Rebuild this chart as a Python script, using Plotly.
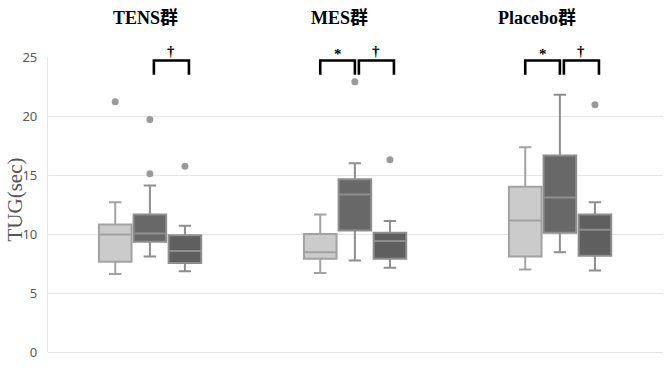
import plotly.graph_objects as go

groups = ["TENS群", "MES群", "Placebo群"]
conditions = ["A", "B", "C"]

# per condition: values for [TENS, MES, Placebo]
lowerfence = {"A": [6.6, 6.7, 7.0], "B": [8.1, 7.75, 8.45], "C": [6.85, 7.15, 6.9]}
q1 = {"A": [7.65, 7.9, 8.1], "B": [9.35, 10.3, 10.1], "C": [7.55, 7.9, 8.15]}
median = {"A": [9.95, 8.45, 11.15], "B": [10.05, 13.35, 13.1], "C": [8.55, 9.4, 10.35]}
q3 = {"A": [10.8, 10.0, 14.0], "B": [11.65, 14.65, 16.65], "C": [9.9, 10.1, 11.65]}
upperfence = {"A": [12.7, 11.65, 17.35], "B": [14.1, 16.0, 21.8], "C": [10.7, 11.1, 12.7]}
outliers = {
    "A": [[21.2], [], []],
    "B": [[19.7, 15.1], [22.9], []],
    "C": [[15.75], [16.3], [20.95]],
}
# significance brackets: (group index, box from, box to, symbol)
brackets = [(0, 1, 2, "†"), (1, 0, 1, "*"), (1, 1, 2, "†"), (2, 0, 1, "*"), (2, 1, 2, "†")]

yticks = [0, 5, 10, 15, 20, 25]
ytitle = "TUG(sec)"

fills = {"A": "#cbcbcb", "B": "#686868", "C": "#5f5f5f"}
lines = {"A": "#a2a2a2", "B": "#8e8e8e", "C": "#8e8e8e"}
offsets = {"A": -0.172, "B": -0.003, "C": 0.168}
BOXW = 0.159

fig = go.Figure()
for c in conditions:
    xs = [g + offsets[c] for g in range(len(groups))]
    fig.add_trace(go.Box(
        x=xs, q1=q1[c], median=median[c], q3=q3[c],
        lowerfence=lowerfence[c], upperfence=upperfence[c],
        width=BOXW, fillcolor=fills[c],
        line=dict(color=lines[c], width=2), whiskerwidth=0.38,
        boxpoints=False, showlegend=False, hoverinfo="skip",
    ))
    ox, oy = [], []
    for g in range(len(groups)):
        for v in outliers[c][g]:
            ox.append(g + offsets[c])
            oy.append(v)
    fig.add_trace(go.Scatter(
        x=ox, y=oy, mode="markers",
        marker=dict(color="#9a9a9a", size=7),
        showlegend=False, hoverinfo="skip",
    ))

px = 1 / 205.0
for g, a, b, sym in brackets:
    ca = conditions[a]
    cb = conditions[b]
    shift = 4 * px if a == 1 else 0
    x0 = g + offsets[ca] + shift
    x1 = g + offsets[cb] + shift
    fig.add_shape(type="path",
                  path=f"M {x0},23.5 L {x0},24.7 L {x1},24.7 L {x1},23.5",
                  line=dict(color="black", width=2.6), xref="x", yref="y")
    fig.add_annotation(x=(x0 + x1) / 2, y=24.7, text=f"<b>{sym}</b>",
                       showarrow=False, yanchor="bottom",
                       yshift=(-3 if sym == "*" else 0),
                       font=dict(family="Liberation Serif", size=15, color="black"))

label_shift = [-5, -16, -24]
for g, name in enumerate(groups):
    fig.add_annotation(x=g, y=1, yref="paper", yanchor="middle", yshift=39,
                       xshift=label_shift[g], text=f"<b>{name}</b>", showarrow=False,
                       font=dict(family="Liberation Serif, Noto Sans CJK SC", size=18, color="black"))

# y-axis title
fig.add_annotation(x=0, y=0.5, xref="paper", yref="paper", xanchor="center", yanchor="middle",
                   xshift=-34, yshift=5, textangle=-90, text=ytitle, showarrow=False,
                   borderpad=0,
                   font=dict(family="Liberation Serif", size=21, color="#555555"))

fig.update_layout(
    width=668, height=373,
    margin=dict(l=48, r=5, t=57, b=21, autoexpand=False),
    paper_bgcolor="white", plot_bgcolor="white",
    xaxis=dict(range=[-0.5, 2.5], showticklabels=False, showgrid=False,
               zeroline=False, showline=False, ticks="", automargin=False),
    yaxis=dict(range=[0, 25], tickvals=yticks, showgrid=True, gridcolor="#e6e6e6",
               gridwidth=1.3, zeroline=True, zerolinecolor="#e3e3e3", zerolinewidth=1.3,
               showline=True, linecolor="#e6e6e6", linewidth=1.3, automargin=False,
               ticks="", ticklabelstandoff=7,
               tickfont=dict(family="Noto Sans", size=13, color="#595959")),
)

fig.write_html("out.html")
